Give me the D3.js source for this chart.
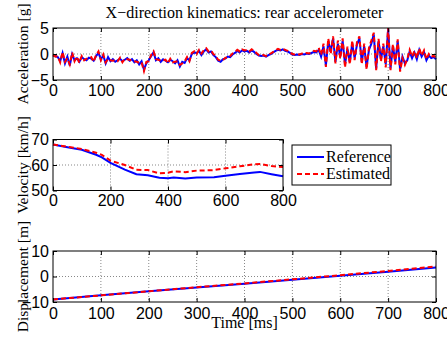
<!DOCTYPE html>
<html>
<head>
<meta charset="utf-8">
<title>X-direction kinematics</title>
<style>
body { margin: 0; background: #fff; }
svg { display: block; font-family: "Liberation Serif", "Times New Roman", serif; }
.grid line { stroke: #555; stroke-dasharray: 1,2; stroke-width: 0.7; }
.frame { fill: none; stroke: #000; stroke-width: 1; }
.tick text { font-size: 16px; }
</style>
</head>
<body>
<svg width="447" height="341"></svg>
<script src="https://cdn.jsdelivr.net/npm/d3@7"></script>
<script>

// acceleration, sampled every 5 ms from 0 to 800
var accTime = d3.range(0, 801, 5);
var accRef = [
  -0.3, -0.4, -0.6, -1.4, 0.2, -1.8, -0.5, -2.2, 0.0, -1.2, -0.8, -1.5, -0.6, -1.0, -1.2, -0.7, -0.9, -1.3, -0.4, 0.2, -1.0,
  -0.3, -1.8, -0.6, -1.4, -1.0, -1.5, -1.2, -0.9, -1.4, -1.1, -0.8, -1.3, -1.0, -1.6, -1.2, -2.0, -1.4, -3.0, -1.8, -1.2,
  -0.4, 0.3, -1.2, -0.8, -1.5, -1.0, -1.3, -1.6, -1.1, -1.4, -1.8, -1.2, -2.4, -1.5, -1.7, -0.8, -1.2, 0.0, 0.3, 0.2,
  0.6, -0.2, 0.5, 0.9, 0.3, 0.5, -0.2, -0.6, -1.3, -1.5, -1.0, -0.9, -0.5, -0.6, -0.1, 0.2, 0.6, 0.3, 0.7, 0.5,
  0.6, 0.3, 0.7, 0.4, 0.0, -0.3, -0.4, -0.3, -0.5, -0.2, 0.0, 0.3, 0.6, 0.8, 0.7, 0.9, 0.6, 0.5, 0.2, -0.1,
  -0.2, -0.1, -0.2, 0.0, -0.1, 0.1, 0.0, 0.2, 0.4, 0.3, 0.8, -0.5, 1.5, -2.2, 2.5, 0.5, 3.0, -1.5, 2.0, -0.5,
  2.5, -2.0, 1.0, -1.5, 2.0, -0.8, 1.8, 3.0, -1.5, 1.5, -2.5, 0.8, 2.0, 3.8, -2.8, 2.5, -1.0, 1.5, -2.0, 4.8,
  -2.8, 1.5, -1.5, 2.5, -3.0, -0.5, -1.8, -1.2, 0.5, -0.8, 0.3, -1.0, 0.8, -0.5, 0.4, -1.2, -0.3, -0.8, -0.6, -1.0
];
var accEst = [
  -0.2, -0.5, -0.4, -1.6, 0.4, -1.5, -0.8, -2.0, 0.3, -1.4, -0.5, -1.7, -0.4, -1.2, -0.9, -0.9, -0.6, -1.5, -0.2, 0.5, -1.2,
  -0.1, -1.6, -0.9, -1.2, -1.3, -1.2, -1.4, -0.7, -1.6, -0.9, -1.0, -1.1, -1.3, -1.4, -1.5, -1.7, -1.6, -3.3, -1.5, -1.4,
  -0.2, 0.5, -1.0, -1.1, -1.3, -1.2, -1.1, -1.8, -0.9, -1.6, -1.5, -1.4, -2.1, -1.8, -1.4, -0.6, -1.4, 0.2, 0.5, 0.0,
  0.8, 0.1, 0.7, 1.1, 0.5, 0.7, 0.0, -0.4, -1.1, -1.3, -1.2, -0.7, -0.7, -0.4, 0.1, 0.4, 0.8, 0.5, 0.9, 0.7,
  0.8, 0.5, 0.9, 0.6, 0.2, -0.2, -0.3, -0.2, -0.4, -0.1, 0.1, 0.4, 0.7, 1.0, 0.8, 1.0, 0.8, 0.6, 0.3, 0.0,
  -0.1, 0.0, -0.1, 0.1, 0.0, 0.2, 0.1, 0.3, 0.6, 0.5, 1.2, -0.2, 2.0, -2.5, 3.0, 0.0, 3.4, -1.8, 2.6, -0.9,
  3.0, -2.6, 1.4, -2.0, 2.6, -1.2, 2.3, 3.4, -2.0, 2.0, -3.0, 1.2, 2.6, 4.1, -3.1, 2.9, -1.5, 2.0, -2.6, 5.0,
  -3.1, 1.9, -2.0, 2.8, -3.4, -0.8, -2.1, -1.0, 0.8, -0.5, 0.6, -0.8, 1.1, -0.3, 0.7, -1.0, 0.0, -0.6, -0.3, -0.8
];

// velocity [km/h]
var velTime = [0, 50, 100, 150, 170, 200, 250, 290, 330, 370, 400, 420, 460, 500, 560, 600, 650, 700, 720, 760, 800];
var velRef = [68.0, 67.0, 66.0, 64.0, 63.0, 60.8, 58.2, 56.4, 56.0, 55.0, 54.8, 55.1, 54.7, 55.1, 55.2, 55.8, 56.5, 57.1, 57.3, 56.4, 55.6];
var velEst = [68.0, 67.2, 66.3, 64.8, 64.0, 61.7, 60.0, 58.1, 58.0, 56.7, 57.0, 57.5, 57.2, 57.8, 58.0, 58.7, 59.5, 60.3, 60.4, 59.6, 59.2];

// displacement [m]
var dispTime = [0, 100, 200, 300, 400, 500, 600, 700, 800];
var dispRef = [-9.0, -7.4, -5.8, -4.3, -2.8, -1.3, 0.3, 1.9, 3.5];
var dispEst = [-9.0, -7.4, -5.8, -4.2, -2.7, -1.1, 0.5, 2.2, 3.9];

var svg = d3.select("svg");

function panel(opts) {
  var x = d3.scaleLinear().domain([0, 800]).range([opts.left, opts.right]);
  var y = d3.scaleLinear().domain(opts.yDomain).range([opts.bottom, opts.top]);
  var g = svg.append("g");

  // grid
  var grid = g.append("g").attr("class", "grid");
  grid.selectAll(".gx").data(opts.xTicks.slice(1, -1)).enter().append("line")
      .attr("x1", x).attr("x2", x).attr("y1", opts.top).attr("y2", opts.bottom);
  grid.selectAll(".gy").data(opts.yTicks.slice(1, -1)).enter().append("line")
      .attr("x1", opts.left).attr("x2", opts.right).attr("y1", y).attr("y2", y);

  // data
  var line = d3.line().x(function(d) { return x(d[0]); }).y(function(d) { return y(d[1]); });
  g.append("path")
      .datum(d3.zip(opts.t, opts.ref))
      .attr("d", line)
      .attr("fill", "none").attr("stroke", "#0000ff").attr("stroke-width", 2);
  g.append("path")
      .datum(d3.zip(opts.t, opts.est))
      .attr("d", line)
      .attr("fill", "none").attr("stroke", "#ff0000").attr("stroke-width", 2)
      .attr("stroke-dasharray", "5,3");

  // axes with inward ticks
  g.append("g").attr("transform", "translate(0," + opts.bottom + ")")
      .call(d3.axisBottom(x).tickValues(opts.xTicks).tickSizeInner(-4).tickSizeOuter(0).tickPadding(opts.pad))
      .call(function(a) { a.select(".domain").remove(); a.selectAll(".tick text").attr("fill", "#000"); });
  g.append("g").attr("transform", "translate(0," + opts.top + ")")
      .call(d3.axisTop(x).tickValues(opts.xTicks).tickSizeInner(-4).tickSizeOuter(0).tickFormat(""))
      .call(function(a) { a.select(".domain").remove(); });
  g.append("g").attr("transform", "translate(" + opts.left + ",0)")
      .call(d3.axisLeft(y).tickValues(opts.yTicks).tickSizeInner(-4).tickSizeOuter(0).tickPadding(4)
        .tickFormat(function(d) { return d < 0 ? "\u2212" + Math.abs(d) : d; }))
      .call(function(a) { a.select(".domain").remove(); a.selectAll(".tick text").attr("fill", "#000"); });
  g.append("g").attr("transform", "translate(" + opts.right + ",0)")
      .call(d3.axisRight(y).tickValues(opts.yTicks).tickSizeInner(-4).tickSizeOuter(0).tickFormat(""))
      .call(function(a) { a.select(".domain").remove(); });

  g.append("rect").attr("class", "frame")
      .attr("x", opts.left).attr("y", opts.top)
      .attr("width", opts.right - opts.left).attr("height", opts.bottom - opts.top);

  g.append("text")
      .attr("transform", "translate(28," + (opts.top + opts.bottom) / 2 + ") rotate(-90)")
      .attr("text-anchor", "middle")
      .style("font-size", "15.5px")
      .text(opts.yLabel);
}

panel({ left: 53, right: 436, top: 28, bottom: 80, yDomain: [-5, 5], pad: 5,
        xTicks: d3.range(0, 801, 100), yTicks: [-5, 0, 5],
        t: accTime, ref: accRef, est: accEst, yLabel: "Acceleration [g]" });

panel({ left: 53, right: 283, top: 139.5, bottom: 190.5, yDomain: [50, 70], pad: 4,
        xTicks: d3.range(0, 801, 200), yTicks: [50, 60, 70],
        t: velTime, ref: velRef, est: velEst, yLabel: "Velocity [km/h]" });

panel({ left: 53, right: 436, top: 251, bottom: 302, yDomain: [-10, 10], pad: 6,
        xTicks: d3.range(0, 801, 100), yTicks: [-10, 0, 10],
        t: dispTime, ref: dispRef, est: dispEst, yLabel: "Displacement [m]" });

// title and x label
svg.append("text").attr("x", 244.5).attr("y", 18).attr("text-anchor", "middle")
    .style("font-size", "16px").text("X\u2212direction kinematics: rear accelerometer");
svg.append("text").attr("x", 244.5).attr("y", 328).attr("text-anchor", "middle")
    .style("font-size", "16px").text("Time [ms]");

// legend
var leg = svg.append("g");
leg.append("rect").attr("x", 292).attr("y", 145).attr("width", 99).attr("height", 40)
    .attr("fill", "#fff").attr("stroke", "#000");
var entries = [
  { name: "Reference", color: "#0000ff", dash: null },
  { name: "Estimated", color: "#ff0000", dash: "5,3" }
];
entries.forEach(function(e, i) {
  var yy = 157 + i * 17;
  leg.append("line").attr("x1", 297).attr("x2", 324).attr("y1", yy).attr("y2", yy)
      .attr("stroke", e.color).attr("stroke-width", 2).attr("stroke-dasharray", e.dash);
  leg.append("text").attr("x", 326).attr("y", yy + 5).style("font-size", "16px").text(e.name);
});

</script>
</body>
</html>
